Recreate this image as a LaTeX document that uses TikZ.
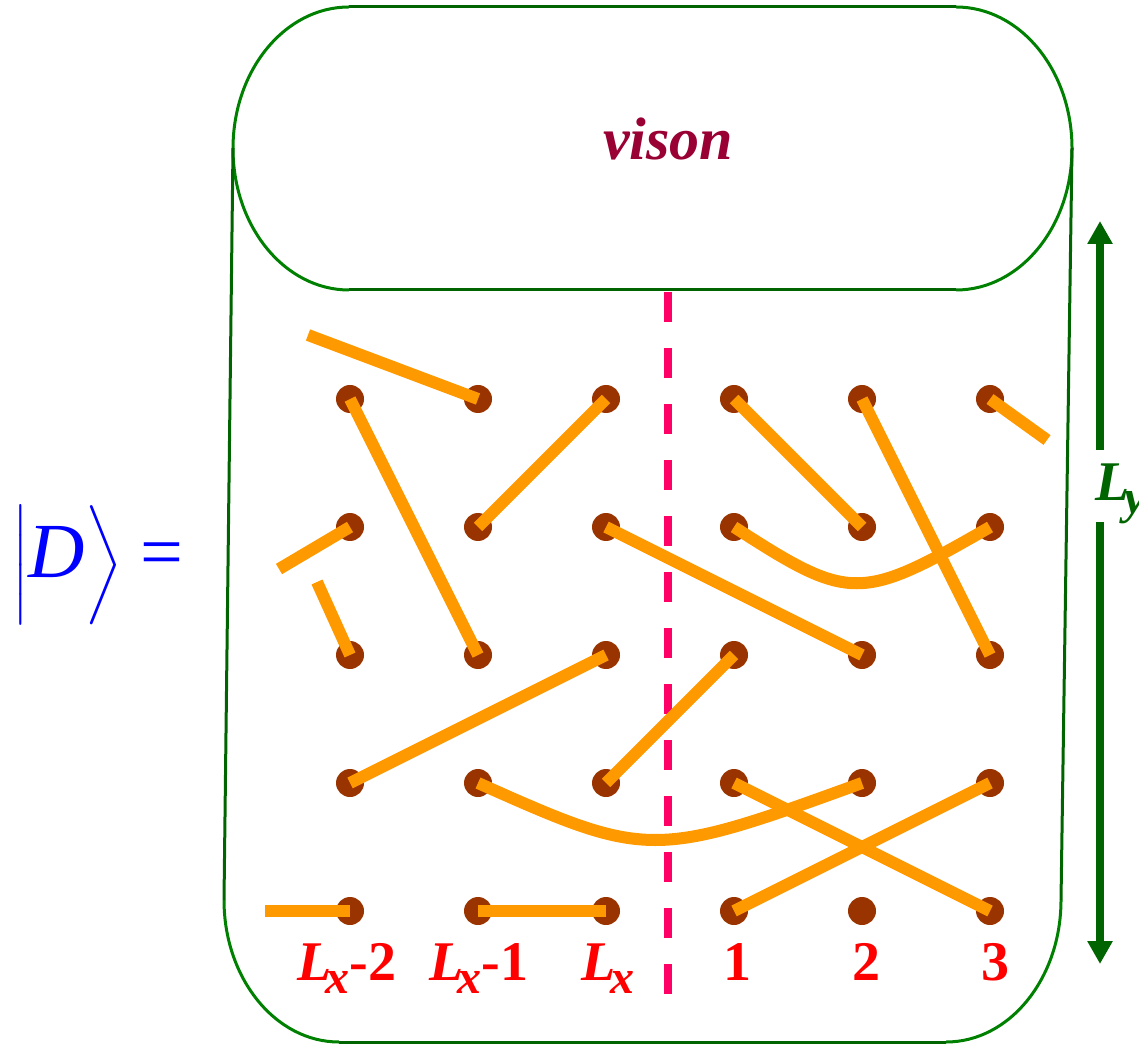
\documentclass[tikz,border=0pt]{standalone}
\usepackage{amsmath}
\usepackage{fontspec}
\setmainfont{Liberation Serif}
\usepackage{xcolor}
\usepackage{tikz}
\usetikzlibrary{arrows.meta,positioning,calc}

\definecolor{dimercol}{RGB}{255,153,0}
\definecolor{sitecol}{RGB}{153,51,0}
\definecolor{rimcol}{RGB}{0,128,0}
\definecolor{wallcol}{RGB}{0,100,0}
\definecolor{cutcol}{RGB}{255,0,102}
\definecolor{visoncol}{RGB}{153,0,51}

\newcommand{\Lsub}[1]{\textit{L}\kern-0.1em\raisebox{-0.24em}{\fontsize{24}{26}\selectfont\textit{#1}}}

\begin{document}
\begin{tikzpicture}[
    x=0.5pt, y=0.5pt,
    site/.style={circle, fill=sitecol, minimum size=14pt, inner sep=0pt},
    dimer/.style={draw=dimercol, line width=6pt},
    wall/.style={draw=wallcol, line width=1.5pt},
    rim/.style={draw=rimcol, line width=1.5pt},
    cutline/.style={draw=cutcol, line width=4pt, dash pattern=on 15pt off 13pt},
    lbl/.style={text=red, font=\fontsize{28}{30}\selectfont\bfseries, anchor=base, inner sep=0pt},
    lyarrow/.style={-{Triangle[length=11.5pt, width=12pt]}, draw=wallcol, line width=4pt}
]
\useasboundingbox (0,0) rectangle (1139,1045);

% Vison cap
\draw[wall] (349,1038) -- (956,1038);
\draw[rim] (956,1038) arc[start angle=90, end angle=-90, x radius=116, y radius=141.5];
\draw[wall] (956,755) -- (349,755);
\draw[rim] (349,755) arc[start angle=270, end angle=90, x radius=116, y radius=141.5];
\node[text=visoncol, font=\fontsize{30}{32}\selectfont\bfseries\itshape, anchor=base] (vison) at (668,885) {vison};

% Cylinder body
\draw[wall] (233,897) -- (224,145);
\draw[rim] (224,145) arc[start angle=180, end angle=270, x radius=115, y radius=142];
\draw[wall] (339,3) -- (946,3);
\draw[rim] (946,3) arc[start angle=270, end angle=360, x radius=115, y radius=142];
\draw[wall] (1061,145) -- (1072,897);

% State
\node[text=blue, font=\fontsize{39}{44}\selectfont, inner sep=0pt, anchor=west] (state) at (12,480)
    {$\left|\rule[-13.5pt]{0pt}{47pt}\mbox{\textit{D}}\right\rangle$\hspace{9pt}{\fontsize{38}{40}\selectfont =}};

% Sites
\foreach \i in {0,...,5}
  \foreach \j in {0,...,4}
    \node[site] (d\i\j) at ({350+128*\i},{646-128*\j}) {};

% Cut
\coordinate (cuttop) at (668,753);
\coordinate (cutbot) at (668,50);
\draw[cutline] (cuttop) -- (cutbot);

% Free ends
\coordinate (e1) at (308,710);
\coordinate (e2) at (279,476);
\coordinate (e3) at (317,463);
\coordinate (e4) at (1047,605);
\coordinate (e5) at (265,134);

% Dimers
\draw[dimer] (e1) -- (d10.center);
\draw[dimer] (d00.center) -- (d12.center);
\draw[dimer] (d11.center) -- (d20.center);
\draw[dimer] (e2) -- (d01.center);
\draw[dimer] (e3) -- (d02.center);
\draw[dimer] (d03.center) -- (d22.center);
\draw[dimer] (d13.center) .. controls (648,186) and (653,186) .. (d43.center);
\draw[dimer] (d23.center) -- (d32.center);
\draw[dimer] (d21.center) -- (d42.center);
\draw[dimer] (d30.center) -- (d41.center);
\draw[dimer] (d40.center) -- (d52.center);
\draw[dimer] (d50.center) -- (e4);
\draw[dimer] (d31.center) .. controls (850,443) and (860,443) .. (d51.center);
\draw[dimer] (d33.center) -- (d54.center);
\draw[dimer] (d34.center) -- (d53.center);
\draw[dimer] (e5) -- (d04.center);
\draw[dimer] (d14.center) -- (d24.center);

% Column labels
\node[lbl] (lx2) at (347,65) {\Lsub{x}-2};
\node[lbl] (lx1) at (479,65) {\Lsub{x}-1};
\node[lbl] (lx0) at (608,65) {\Lsub{x}};
\node[lbl] (c1) at (737,65) {1};
\node[lbl] (c2) at (866,65) {2};
\node[lbl] (c3) at (995,65) {3};

% Ly arrow
\node[text=wallcol, font=\fontsize{28}{30}\selectfont\bfseries, anchor=base west, inner sep=0pt] (ly) at (1095,545) {\Lsub{y}};
\coordinate (lytop) at (1100,824);
\coordinate (lybot) at (1100,81);
\coordinate (gapup) at (1100,595);
\coordinate (gapdown) at (1100,523);
\draw[lyarrow] (gapup) -- (lytop);
\draw[lyarrow] (gapdown) -- (lybot);

\end{tikzpicture}
\end{document}
